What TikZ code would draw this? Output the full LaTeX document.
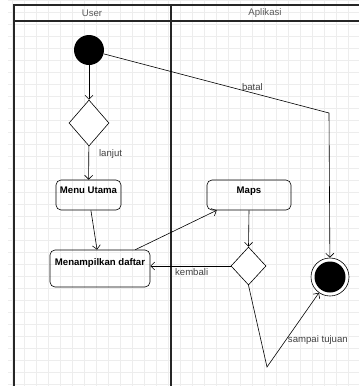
\documentclass[tikz,border=0pt]{standalone}
\usepackage{fontspec}
\setmainfont{Liberation Sans}
\usepackage{tikz}
\usetikzlibrary{shapes.geometric}
\usetikzlibrary{arrows.meta}
\usepackage{xcolor}

\tikzset{
  aktivitas/.style={draw,rounded corners=5pt,font=\bfseries\fontsize{9.6}{11}\selectfont,inner xsep=3pt,inner ysep=3pt},
  keputusan/.style={draw,diamond,inner sep=0pt,fill=white},
  keterangan/.style={text=black!75,font=\fontsize{9.6}{11}\selectfont,inner sep=2pt},
  kepala/.style={text=black!65,font=\fontsize{9.6}{11}\selectfont},
  jalur/.style={line width=1.4pt,black!85},
  mulai/.style={circle,fill=black,minimum size=30pt,inner sep=0pt},
  akhir/.style={circle,draw,fill=white,minimum size=38pt,inner sep=0pt},
}

\begin{document}
\begin{tikzpicture}[x=1pt,y=-1pt,line width=0.6pt,>={Straight Barb[length=4pt,width=8pt]}]
\useasboundingbox (0,0) rectangle (359,386);
\draw[black!7,line width=0.4pt,step=12pt] (8,0) grid (359,386);
% lajur
\draw[jalur] (359,5) -- (14,5) -- (14,386);
\draw[jalur] (14,21) -- (359,21);
\draw[jalur] (171,5) -- (171,386);
\node[kepala] at (92,13) (user){User};
\node[kepala] at (265,13) (aplikasi){Aplikasi};

  \node[mulai] at (89,50) (start){};
  \node[keputusan,minimum width=40pt,minimum height=46pt] at ([yshift=-73pt]start) (cek1){};
  \node[aktivitas,minimum width=65pt,text height=10pt,text depth=14pt] at (88.5,195) (menu){Menu Utama};
  \node[aktivitas,minimum width=100pt,text height=12.5pt,text depth=18.5pt] at (100,268.5) (daftar){Menampilkan daftar};
  \node[aktivitas,minimum width=84pt,text height=10pt,text depth=14pt] at (249,195) (maps){Maps};
  \node[keputusan,minimum width=35pt,minimum height=38pt] at (248.5,266) (cek2){};
  \node[akhir] at (330,277) (selesai){};
  \node[circle,fill=black,minimum size=31pt,inner sep=0pt] at (selesai) (selesaiIsi){};
  \coordinate (belok1) at (329,113);
  \coordinate (belok2) at (267,367);

  \draw [->] (start) -- (cek1);
  \draw [->] (cek1) -- node[keterangan,pos=0.25,right,xshift=8pt]{lanjut} (menu);
  \draw [->] (menu) -- (daftar);
  \draw [->] ([xshift=-15pt]daftar.north east) -- ([xshift=10pt]maps.south west);
  \draw [->] (maps.south) -- (cek2.north);
  \draw [->] (cek2.west) -- node[keterangan,pos=0.72,anchor=north west]{kembali} (cek2.west -| daftar.east);
  \draw [->] (start) -- node[keterangan,pos=0.66,above]{batal} (belok1) -- (selesai);
  \draw [->] (cek2.south) -- (belok2) -- node[keterangan,pos=0.36,right]{sampai tujuan} (selesai);

  \end{tikzpicture}
\end{document}
